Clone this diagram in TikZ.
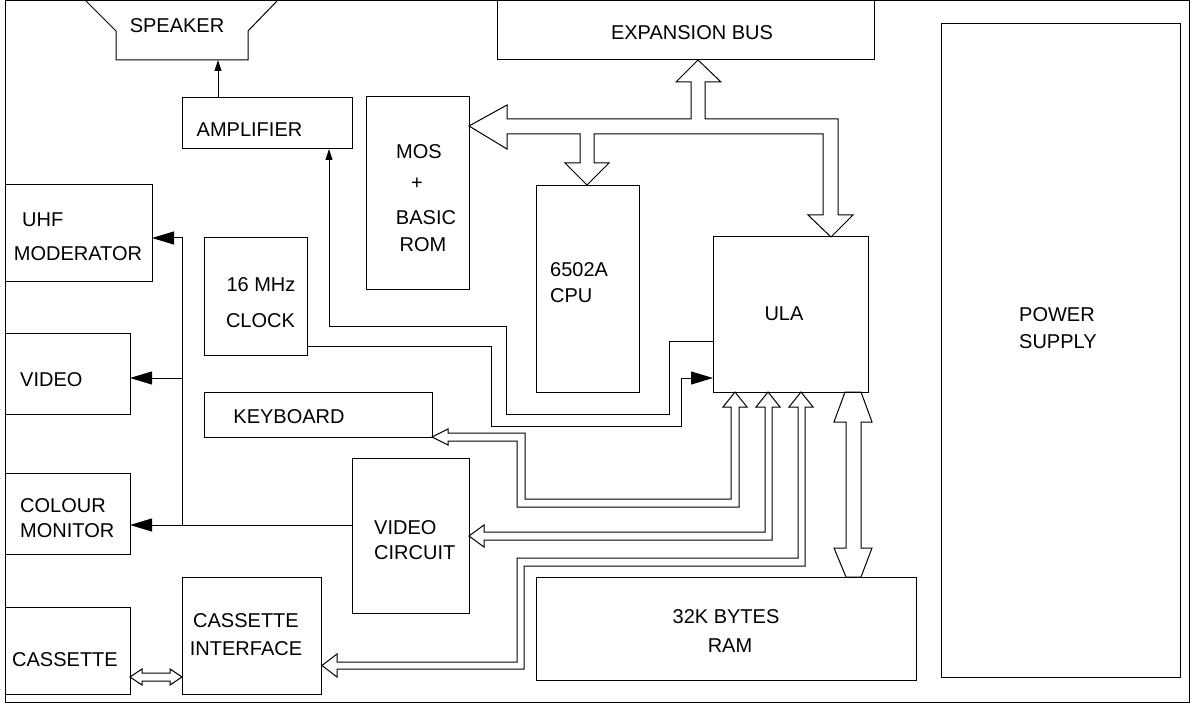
\documentclass[tikz,border=0pt]{standalone}
\usepackage{fontspec}
\setmainfont{Liberation Sans}
\usetikzlibrary{arrows.meta,fit}
\begin{document}
\begin{tikzpicture}[x=1pt,y=-1pt,
  box/.style={draw=black, line width=1pt, inner sep=0pt, outer sep=0pt},
  lnk/.style={draw=black, line width=1pt},
  smallarr/.style={lnk, -{Triangle[length=11pt,width=7pt]}},
  bigarr/.style={lnk, -{Triangle[length=22pt,width=13pt]}},
  fat/.style={draw=black, line width=1pt, fill=white, line join=miter},
  txt/.style={inner sep=0pt, font=\fontsize{20pt}{24pt}\selectfont}]
\useasboundingbox (0,0) rectangle (1196,703);

% frame
\node[box, fit={(5,1) (1189,702)}] (frame) {};

% fat buses (drawn first)
\draw[fat] (698,60) -- (721,82) -- (705,82) -- (705,119) -- (838,119) -- (838,215)
  -- (853,215) -- (831,237) -- (808,215) -- (823,215) -- (823,134) -- (594,134)
  -- (594,163) -- (609,163) -- (587,185) -- (565,163) -- (580,163) -- (580,134)
  -- (507,134) -- (507,149) -- (469,126) -- (507,105) -- (507,119) -- (691,119)
  -- (691,82) -- (676,82) -- cycle;
% ULA -> keyboard
\draw[fat] (735,392) -- (747,407) -- (739,407) -- (739,507) -- (517,507) -- (517,441)
  -- (448,441) -- (448,445) -- (432,437) -- (448,429) -- (448,433) -- (525,433)
  -- (525,499) -- (731,499) -- (731,407) -- (723,407) -- cycle;
% ULA -> video circuit
\draw[fat] (768,392) -- (780,407) -- (772,407) -- (772,540) -- (484,540) -- (484,547)
  -- (469,536) -- (484,525) -- (484,532) -- (765,532) -- (765,407) -- (756,407) -- cycle;
% ULA -> cassette interface
\draw[fat] (801,392) -- (813,407) -- (805,407) -- (805,566) -- (524,566) -- (524,669)
  -- (337,669) -- (337,677) -- (322,665.5) -- (337,654) -- (337,662) -- (517,662)
  -- (517,558) -- (798,558) -- (798,407) -- (789,407) -- cycle;
% ULA <-> RAM
\draw[fat] (845,392) -- (834,422) -- (846,422) -- (846,548) -- (834,548) -- (846,577)
  -- (861,577) -- (872,548) -- (861,548) -- (861,422) -- (872,422) -- (861,392) -- cycle;
% cassette <-> interface
\draw[fat] (130,677) -- (142,669) -- (142,673) -- (170,673) -- (170,669) -- (182,677)
  -- (170,685) -- (170,681) -- (142,681) -- (142,685) -- cycle;

% speaker
\draw[lnk, line join=miter] (86,1) -- (116,31) -- (116,60) -- (248,60) -- (248,31) -- (277,1);
\node[txt] (spk) at (177,26) {SPEAKER};
\coordinate (spkB) at (218,60);

% boxes
\node[box, fit={(497,1) (874,60)}] (exp) {};
\node[box, fit={(182,98) (352,149)}] (amp) {};
\node[box, fit={(366,97) (469,289)}] (mos) {};
\node[box, fit={(536,186) (639,392)}] (cpu) {};
\node[box, fit={(713,237) (868,392)}] (ula) {};
\node[box, fit={(5,185) (152,281)}] (uhf) {};
\node[box, fit={(5,333) (130,414)}] (vid) {};
\node[box, fit={(5,473) (130,554)}] (cm) {};
\node[box, fit={(204,238) (307,355)}] (clk) {};
\node[box, fit={(204,392) (432,437)}] (kbd) {};
\node[box, fit={(352,458) (469,613)}] (vc) {};
\node[box, fit={(182,577) (321,694)}] (ci) {};
\node[box, fit={(5,607) (130,694)}] (cas) {};
\node[box, fit={(536,577) (916,680)}] (ram) {};
\node[box, fit={(941,24) (1180,677)}] (psu) {};

% texts
\node[txt] (expT) at (692,33) {EXPANSION BUS};
\node[txt] (ampT) at (249.5,130) {AMPLIFIER};
\node[txt] (mosT1) at (419,152) {MOS};
\node[txt] (mosT2) at (417,184) {+};
\node[txt] (mosT3) at (426,218) {BASIC};
\node[txt] (mosT4) at (423,245) {ROM};
\node[txt, anchor=west] (cpuT1) at (550,270) {6502A};
\node[txt, anchor=west] (cpuT2) at (550,296) {CPU};
\node[txt] (ulaT) at (784,314) {ULA};
\node[txt, anchor=west] (uhfT1) at (22,220) {UHF};
\node[txt] (uhfT2) at (78,254) {MODERATOR};
\node[txt, anchor=west] (vidT) at (20,380) {VIDEO};
\node[txt, anchor=west] (cmT1) at (20,506) {COLOUR};
\node[txt, anchor=west] (cmT2) at (20,531) {MONITOR};
\node[txt] (clkT1) at (261,285) {16 MHz};
\node[txt] (clkT2) at (260.5,321) {CLOCK};
\node[txt] (kbdT) at (289,417) {KEYBOARD};
\node[txt, anchor=west] (vcT1) at (374,528) {VIDEO};
\node[txt, anchor=west] (vcT2) at (374,553) {CIRCUIT};
\node[txt] (ciT1) at (246,621) {CASSETTE};
\node[txt] (ciT2) at (246,649) {INTERFACE};
\node[txt] (casT) at (65,660) {CASSETTE};
\node[txt] (ramT1) at (726,617) {32K BYTES};
\node[txt] (ramT2) at (730,646) {RAM};
\node[txt, anchor=west] (psuT1) at (1019,315) {POWER};
\node[txt, anchor=west] (psuT2) at (1019,342) {SUPPLY};

% thin connectors
\draw[smallarr] (amp.north -| spkB) -- (spkB);

\coordinate (a1) at (669,341);
\coordinate (a2) at (669,414);
\coordinate (a3) at (506,414);
\coordinate (a4) at (506,326);
\coordinate (a5) at (329,326);
\draw[smallarr] (ula.west |- a1) -- (a1) -- (a2) -- (a3) -- (a4) -- (a5) -- (amp.south -| a5);

\coordinate (c1) at (491,346);
\coordinate (c2) at (491,426);
\coordinate (c3) at (681,426);
\coordinate (c4) at (681,378);
\draw[bigarr] (clk.east |- c1) -- (c1) -- (c2) -- (c3) -- (c4) -- (ula.west |- c4);

\coordinate (j1) at (182,525);
\coordinate (j2) at (182,378);
\coordinate (j3) at (182,238);
\draw[bigarr] (vc.west |- j1) -- (cm.east |- j1);
\draw[bigarr] (j1) -- (j3) -- (uhf.east |- j3);
\draw[bigarr] (j2) -- (vid.east |- j2);
\end{tikzpicture}
\end{document}
